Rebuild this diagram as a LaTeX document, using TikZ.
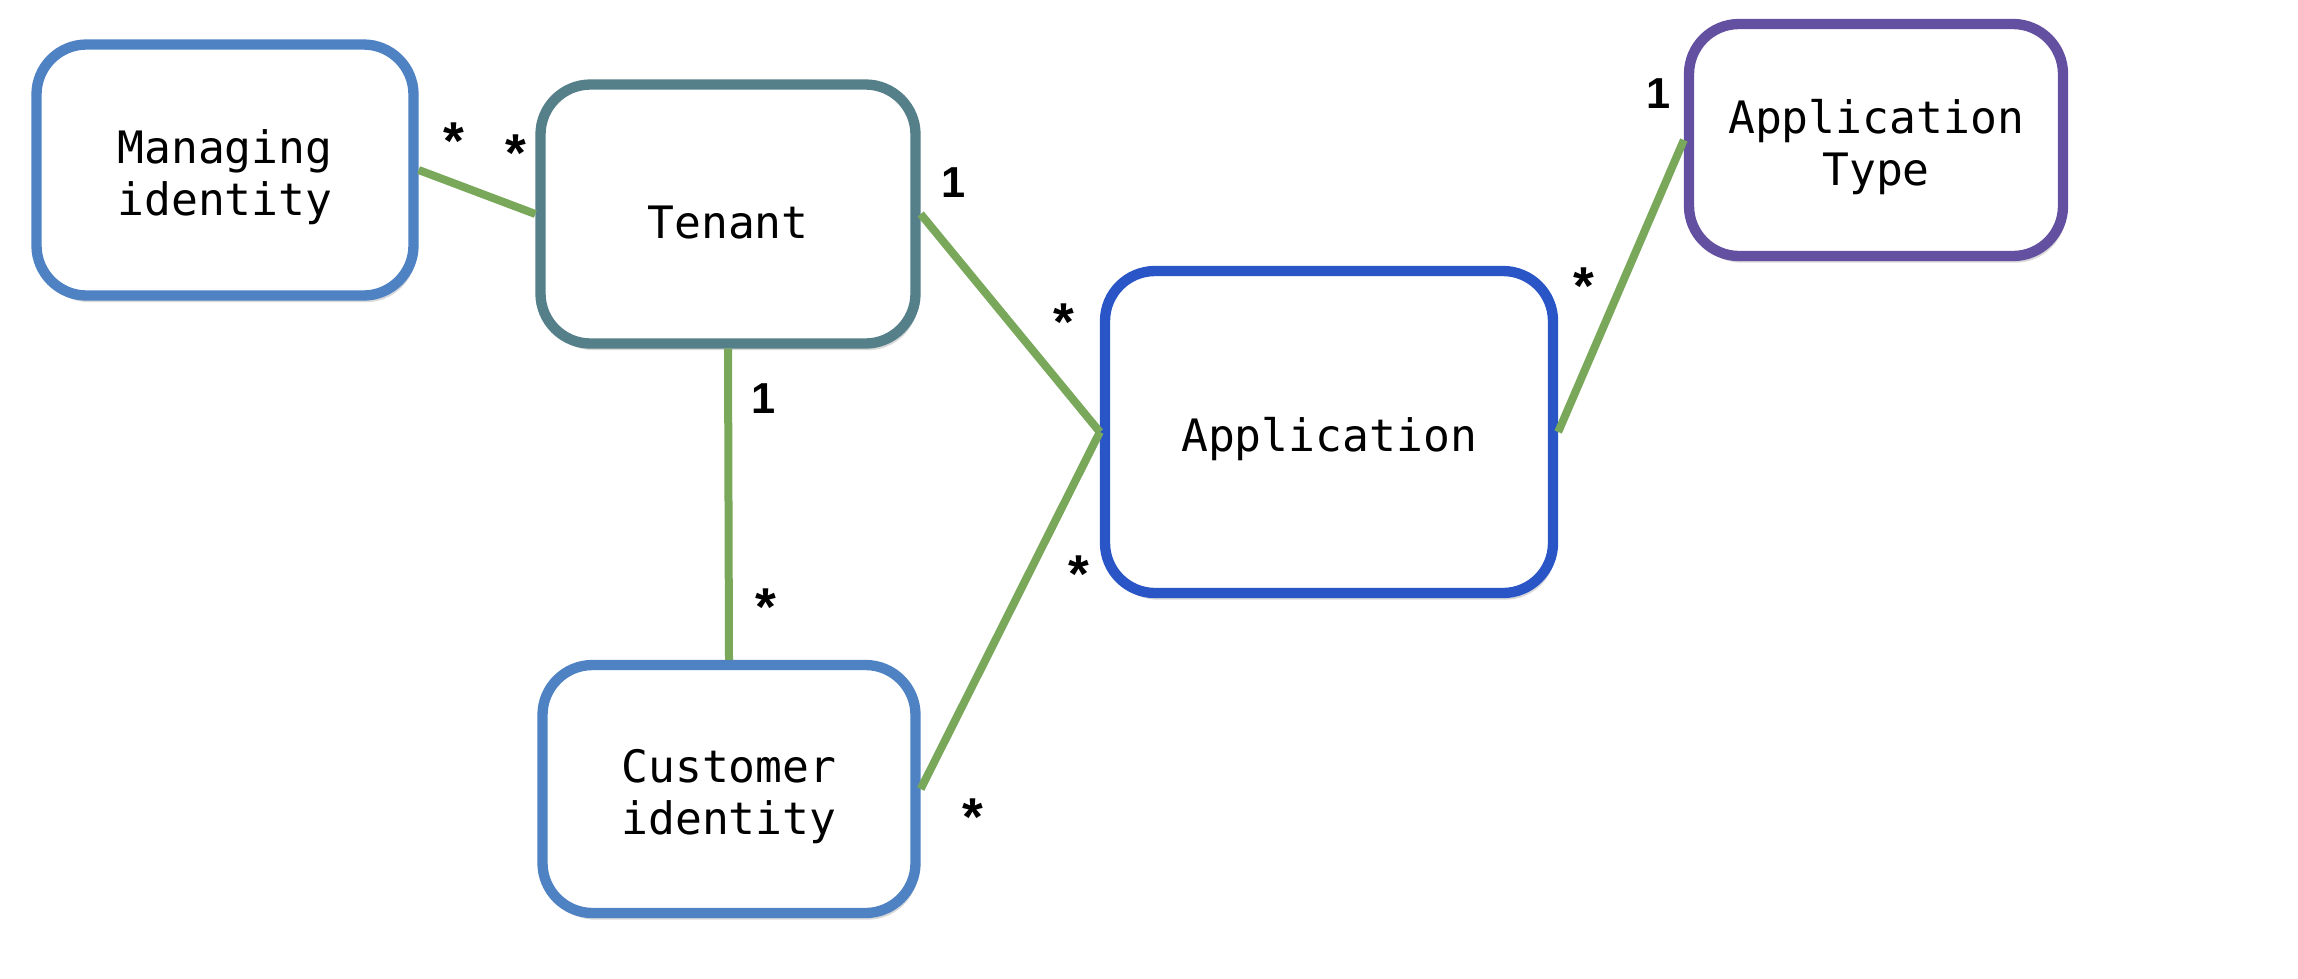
\documentclass[tikz,border=0pt]{standalone}
\usepackage{fontspec}
\usetikzlibrary{shadows}
\newfontfamily\boxfont{DejaVu Sans Mono}
\newfontfamily\labfont{Liberation Sans}
\definecolor{cMI}{RGB}{79,130,195}
\definecolor{cTen}{RGB}{85,128,138}
\definecolor{cApp}{RGB}{42,85,198}
\definecolor{cAT}{RGB}{100,80,160}
\definecolor{cLink}{RGB}{121,168,90}
\newcommand\topgap{\rule{0pt}{1.1em}}
\begin{document}
\begin{tikzpicture}[x=0.3pt,y=-0.3pt,
  entity/.style={draw, line width=3.1pt, rounded corners=15pt, fill=white,
    align=center, font=\boxfont\fontsize{13.4}{15.6}\selectfont, inner sep=0pt,
    drop shadow={shadow xshift=0.8pt, shadow yshift=-2pt, opacity=0.15, fill=black}},
  link/.style={draw=cLink, line width=2.4pt},
  one/.style={font=\labfont\bfseries\fontsize{13}{14}\selectfont, inner sep=0pt},
  many/.style={font=\labfont\bfseries\fontsize{16}{16}\selectfont, inner sep=0pt}
]
\useasboundingbox (0,0) rectangle (2298,978);
\fill[white] (0,0) rectangle (2298,978);

\node[entity, draw=cMI, minimum width=377*0.3pt, minimum height=251*0.3pt] (mi) at (225,170) {\topgap Managing\\identity};
\node[entity, draw=cTen, minimum width=375*0.3pt, minimum height=259*0.3pt] (ten) at (728,214) {\topgap Tenant};
\node[entity, draw=cApp, minimum width=448*0.3pt, minimum height=322*0.3pt] (app) at (1329,432) {\topgap Application};
\node[entity, draw=cAT, minimum width=374*0.3pt, minimum height=232*0.3pt] (at) at (1876,140) {\topgap Application\\Type};
\node[entity, draw=cMI, minimum width=373*0.3pt, minimum height=248*0.3pt] (cust) at (729,789) {\topgap Customer\\identity};

\draw[link] (mi.east) -- (ten.west);
\draw[link] (ten.east) -- (app.west);
\draw[link] (ten.south) -- (cust.north);
\draw[link] (cust.east) -- (app.west);
\draw[link] (app.east) -- (at.west);

\node[many] (m1) at (454,141) {*};
\node[many] (m2) at (516,153) {*};
\node[one] (o1) at (954,183) {1};
\node[many] (m3) at (1064,322) {*};
\node[one] (o2) at (764,399) {1};
\node[many] (m4) at (766,607) {*};
\node[many] (m5) at (1079,574) {*};
\node[many] (m6) at (973,817) {*};
\node[many] (m7) at (1584,286) {*};
\node[one] (o3) at (1659,94) {1};
\end{tikzpicture}
\end{document}
